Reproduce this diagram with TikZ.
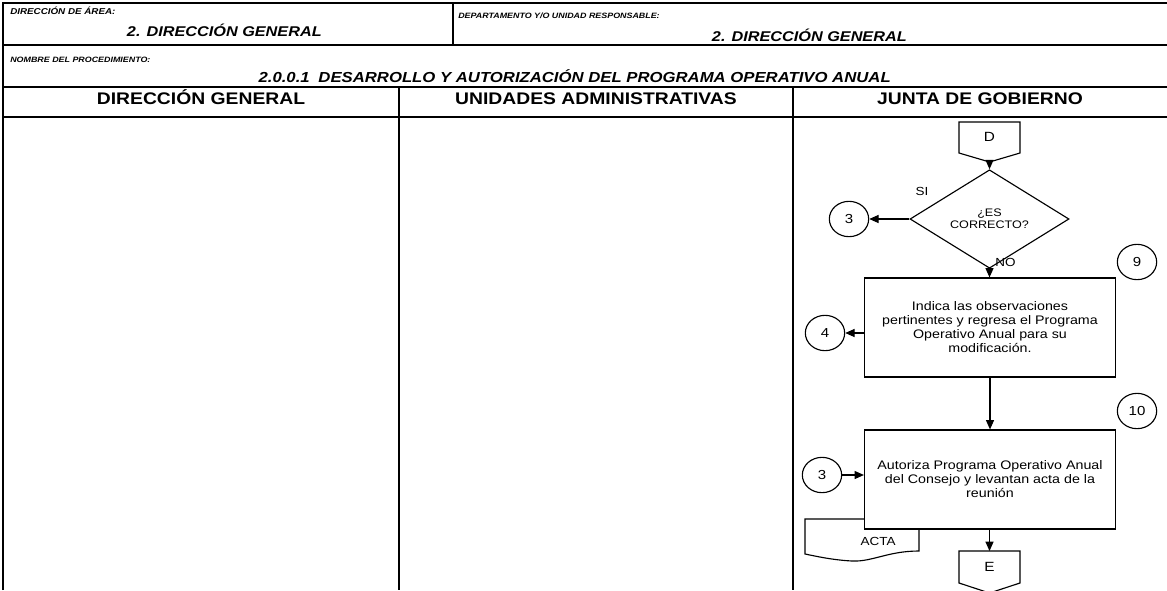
\documentclass[tikz,border=0pt]{standalone}
\usepackage{fontspec}
\setmainfont{Liberation Sans}[FakeStretch=1.15]
\usetikzlibrary{arrows.meta,shapes.geometric}
\begin{document}
\begin{tikzpicture}[x=0.75pt,y=-0.75pt,
  frame/.style={line width=1pt},
  shp/.style={draw,line width=0.85pt,fill=white},
  arr/.style={line width=0.85pt,-{Triangle[length=7pt,width=6pt]}},
  lbl/.style={font=\fontsize{5.8}{6.5}\selectfont\bfseries\itshape,inner sep=0pt},
  val/.style={font=\fontsize{10.6}{12}\selectfont\bfseries\itshape,inner sep=0pt},
  hdr/.style={font=\fontsize{12.6}{14}\selectfont\bfseries,inner sep=0pt},
  proc/.style={shp,rectangle,minimum width=188.25pt,minimum height=74.25pt,align=center,font=\fontsize{9.3}{10.5}\selectfont,inner sep=0pt},
  circ/.style={shp,ellipse,minimum width=29.5pt,minimum height=26.5pt,inner sep=0pt,font=\fontsize{9.8}{11}\selectfont},
  dec/.style={shp,diamond,minimum width=119.25pt,minimum height=54pt,inner sep=0pt,align=center,font=\fontsize{8.2}{9}\selectfont},
  small/.style={font=\fontsize{8.8}{10}\selectfont,inner sep=0pt},
  conn/.style={font=\fontsize{10}{11}\selectfont,inner sep=0pt}
]
\useasboundingbox (0,0) rectangle (1167,590);
\clip (0,0) rectangle (1167,590);
% frame
\draw[frame] (3,590) -- (3,3) -- (1167,3);
\draw[frame] (3,45) -- (1167,45);
\draw[frame] (453,3) -- (453,45);
\draw[frame] (3,87) -- (1167,87);
\draw[frame] (3,117) -- (1167,117);
\draw[frame] (399,87) -- (399,590);
\draw[frame] (793,87) -- (793,590);
% header texts
\node[lbl,anchor=base west,font=\fontsize{6.4}{7}\selectfont\bfseries\itshape] (lArea) at (10,14) {DIRECCIÓN DE ÁREA:};
\node[val,anchor=base east] (vArea) at (322,36) {2. DIRECCIÓN GENERAL};
\node[lbl,anchor=base west] (lDep) at (458,18) {DEPARTAMENTO Y/O UNIDAD RESPONSABLE:};
\node[val,anchor=base east] (vDep) at (907,41) {2. DIRECCIÓN GENERAL};
\node[lbl,anchor=base west] (lProc) at (10,62) {NOMBRE DEL PROCEDIMIENTO:};
\node[val,anchor=base east,font=\fontsize{10.9}{12}\selectfont\bfseries\itshape] (vProc) at (891,82) {2.0.0.1\hspace{0.6em}DESARROLLO Y AUTORIZACIÓN DEL PROGRAMA OPERATIVO ANUAL};
\node[hdr,anchor=base] (h1) at (201,104.5) {DIRECCIÓN GENERAL};
\node[hdr,anchor=base] (h2) at (596,104.5) {UNIDADES ADMINISTRATIVAS};
\node[hdr,anchor=base] (h3) at (980,104.5) {JUNTA DE GOBIERNO};
% flowchart
\draw[shp] (959,122) -- (1020,122) -- (1020,153) -- (989.5,162) -- (959,153) -- cycle;
\node[conn] (D) at (989.5,137) {D};
\coordinate (Dtip) at (989.5,162);
\node[dec] (q) at (989.5,219) {¿ES\\CORRECTO?};
\draw[arr] (Dtip) -- (q.north);
\node[circ] (c3a) at (849,219) {3};
\draw[arr] (q.west) -- (c3a.east);
\node[small] (si) at (922,191) {SI};
\node[proc] (b1) at (990,327.5) {Indica las observaciones\\pertinentes y regresa el Programa\\Operativo Anual para su\\modificación.};
\draw[arr] (q.south) -- (q.south |- b1.north);
\node[small,anchor=west] (no) at (995,262) {NO};
\node[circ] (c9) at (1137,262) {9};
\node[circ] (c4) at (825,333) {4};
\draw[arr] (c4.east -| b1.west) -- (c4.east);
% document ACTA (partly behind box 2)
\draw[shp] (805,519) -- (919,519) -- (919,551) .. controls (888,551) and (872,562) .. (852,561) .. controls (832,560) and (815,556) .. (805,554) -- cycle;
\node[small] (acta) at (878,541) {ACTA};
\node[proc] (b2) at (990,479.5) {Autoriza Programa Operativo Anual\\del Consejo y levantan acta de la\\reunión};
\draw[arr] (b1.south) -- (b2.north);
\node[circ] (c10) at (1137,411) {10};
\node[circ] (c3b) at (822,475) {3};
\draw[arr] (c3b.east) -- (c3b.east -| b2.west);
\draw[shp] (959,551) -- (1020,551) -- (1020,583) -- (989.5,593) -- (959,583) -- cycle;
\node[conn] (E) at (989.5,567) {E};
\coordinate (Etop) at (989.5,551);
\draw[arr] (b2.south -| Etop) -- (Etop);
\end{tikzpicture}
\end{document}
